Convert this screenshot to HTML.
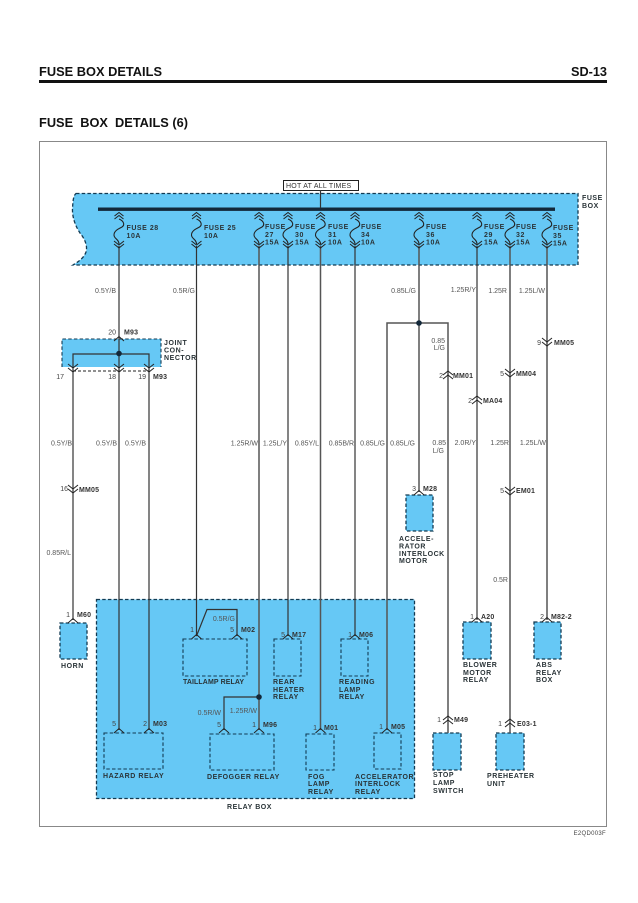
<!DOCTYPE html>
<html><head><meta charset="utf-8"><style>
html,body{margin:0;padding:0;background:#fff;width:638px;height:903px;overflow:hidden}
svg{display:block;font-family:"Liberation Sans",sans-serif}
.w{fill:none;stroke:#333;stroke-width:1.2}
.g{fill:none;stroke:#555;stroke-width:1.5}
.d{fill:#66c8f5;stroke:#123a52;stroke-width:1.3;stroke-dasharray:3.5 2.2}
.e{fill:none;stroke:#123a52;stroke-width:1.1;stroke-dasharray:3.5 2.2}
.c{fill:none;stroke:#222;stroke-width:1}
.b{font-size:7px;font-weight:bold;fill:#2a3438;letter-spacing:.55px}
.r{font-size:7px;fill:#555;text-anchor:end}
.p{font-size:7px;fill:#444;text-anchor:end}
.m{font-size:7px;font-weight:bold;fill:#333;letter-spacing:.2px}
</style></head><body>
<svg width="638" height="903" viewBox="0 0 638 903" xmlns="http://www.w3.org/2000/svg">
<defs>
<path id="dd" d="M-5,-4 L0,0 L5,-4 M-5,0 L0,4 L5,0" class="c"/>
<path id="du" d="M-5,0 L0,-4 L5,0 M-5,4 L0,0 L5,4" class="c"/>
<path id="cap" d="M-5,3 L0,-1.5 L5,3" class="c"/>
<g id="fuse">
<path d="M-4.5,216 L0,212.5 L4.5,216 M-4.5,219 L0,215.5 L4.5,219" class="c"/>
<path d="M0,219 C5,221 6,225 3,227 C-1,229 -5,231 -5,235 C-5,239 0,239 0,244" class="c" style="stroke-width:1.1"/>
<path d="M-5,241 L0,245 L5,241 M-5,244 L0,248 L5,244" class="c"/>
</g>
</defs>
<rect width="638" height="903" fill="#fff"/>

<text x="39" y="76" font-size="13" font-weight="bold" fill="#111" textLength="123" lengthAdjust="spacingAndGlyphs">FUSE BOX DETAILS</text>
<text x="571" y="76" font-size="13" font-weight="bold" fill="#111" textLength="36" lengthAdjust="spacingAndGlyphs">SD-13</text>
<rect x="39" y="80" width="568" height="3" fill="#111"/>
<text x="39" y="127" font-size="13" font-weight="bold" fill="#111" textLength="149" lengthAdjust="spacingAndGlyphs" xml:space="preserve">FUSE  BOX  DETAILS (6)</text>
<rect x="39.5" y="141.5" width="567" height="685" fill="#fff" stroke="#888" stroke-width="1"/>

<!-- fuse box -->
<path class="d" d="M76,193.5 L578,193.5 L578,265 L73,265 C78,262 84,258 86,252 C88,245 84,238 80,233 C76,227 72,218 72.5,208 C73,202 73,196 76,193.5 Z"/>
<rect x="98" y="207.5" width="457" height="3.4" fill="#13283a"/>
<rect x="283.5" y="180.5" width="75" height="10" fill="#fff" stroke="#222" stroke-width="1"/>
<text x="286" y="188" font-size="7" fill="#333" letter-spacing=".25">HOT AT ALL TIMES</text>
<path d="M320.5,190 V208" class="w"/>

<!-- relay box -->
<rect class="d" x="96.5" y="599.5" width="318" height="199"/>

<!-- joint connector -->
<path d="M62,339 H161 V367 H62 Z" fill="#66c8f5"/>
<path class="e" d="M62,367 V339 H161 V367"/>
<path d="M73,371 H149" stroke="#222" stroke-width="1" stroke-dasharray="3 2" fill="none"/>

<!-- component boxes -->
<rect class="d" x="406" y="495" width="27" height="36"/>
<rect class="d" x="60" y="623" width="27" height="36"/>
<rect class="d" x="463" y="622" width="28" height="37"/>
<rect class="d" x="534" y="622" width="27" height="37"/>
<rect class="d" x="433" y="733" width="28" height="37"/>
<rect class="d" x="496" y="733" width="28" height="37"/>
<rect class="e" x="183" y="639" width="64" height="37"/>
<rect class="e" x="274" y="639" width="27" height="37"/>
<rect class="e" x="341" y="639" width="27" height="37"/>
<rect class="e" x="104" y="733" width="59" height="36"/>
<rect class="e" x="210" y="734" width="64" height="36"/>
<rect class="e" x="306" y="734" width="28" height="36"/>
<rect class="e" x="374" y="733" width="27" height="36"/>

<!-- wires -->
<path class="w" d="M119,246 V341"/>
<path class="w" d="M196.5,246 V636 L207,609.5 H237 V636"/>
<path class="g" d="M259,246 V730"/>
<path class="w" d="M288,246 V636"/>
<path class="g" d="M320.5,246 V730"/>
<path class="w" d="M355,246 V636"/>
<path class="g" d="M419,246 V492"/>
<path class="w" d="M477,246 V620"/>
<path class="g" d="M510,246 V733"/>
<path class="g" d="M547,246 V620"/>
<path class="g" d="M387,730 V323 H448 V733"/>
<path class="w" d="M73,620 V354 H149 V730"/>
<path class="w" d="M119,341 V730"/>
<path class="w" d="M259,697 H224 V730"/>
<circle cx="119" cy="353.5" r="2.8" fill="#13283a"/>
<circle cx="419" cy="323" r="2.8" fill="#13283a"/>
<circle cx="259" cy="697" r="2.8" fill="#13283a"/>

<!-- fuse symbols -->
<use href="#fuse" x="119"/><use href="#fuse" x="196.5"/><use href="#fuse" x="259"/><use href="#fuse" x="288"/>
<use href="#fuse" x="320.5"/><use href="#fuse" x="355"/><use href="#fuse" x="419"/><use href="#fuse" x="477"/>
<use href="#fuse" x="510"/><use href="#fuse" x="547"/>

<!-- connectors -->
<use href="#cap" x="119" y="338"/>
<use href="#dd" x="73" y="368"/><use href="#dd" x="119" y="368"/><use href="#dd" x="149" y="368"/>
<use href="#dd" x="73" y="489"/>
<use href="#dd" x="547" y="342"/>
<use href="#du" x="448" y="375"/>
<use href="#dd" x="510" y="373"/>
<use href="#du" x="477" y="400"/>
<use href="#dd" x="510" y="491"/>
<use href="#du" x="448" y="720"/>
<use href="#du" x="510" y="723"/>
<use href="#cap" x="419" y="492"/>
<use href="#cap" x="73" y="620"/>
<use href="#cap" x="477" y="619"/>
<use href="#cap" x="547" y="619"/>
<use href="#cap" x="196.5" y="636"/><use href="#cap" x="237" y="636"/>
<use href="#cap" x="288" y="636"/><use href="#cap" x="355" y="636"/>
<use href="#cap" x="119" y="730"/><use href="#cap" x="149" y="730"/>
<use href="#cap" x="224" y="730"/><use href="#cap" x="259" y="730"/>
<use href="#cap" x="320.5" y="730"/><use href="#cap" x="387" y="730"/>

<!-- fuse labels -->
<g class="b">
<text x="126.500" y="230">FUSE 28</text><text x="126.500" y="238">10A</text>
<text x="204" y="230">FUSE 25</text><text x="204" y="238">10A</text>
<text x="265" y="229">FUSE</text><text x="265" y="237">27</text><text x="265" y="244.500">15A</text>
<text x="295" y="229">FUSE</text><text x="295" y="237">30</text><text x="295" y="244.500">15A</text>
<text x="328" y="229">FUSE</text><text x="328" y="237">31</text><text x="328" y="244.500">10A</text>
<text x="361" y="229">FUSE</text><text x="361" y="237">34</text><text x="361" y="244.500">10A</text>
<text x="426" y="229">FUSE</text><text x="426" y="237">36</text><text x="426" y="244.500">10A</text>
<text x="484" y="229">FUSE</text><text x="484" y="237">29</text><text x="484" y="244.500">15A</text>
<text x="516" y="229">FUSE</text><text x="516" y="237">32</text><text x="516" y="244.500">15A</text>
<text x="553" y="230">FUSE</text><text x="553" y="238">35</text><text x="553" y="245.500">15A</text>
<text x="582" y="200">FUSE</text><text x="582" y="208">BOX</text>
<text x="164" y="345">JOINT</text><text x="164" y="352.500">CON-</text><text x="164" y="360">NECTOR</text>
<text x="399" y="541">ACCELE-</text><text x="399" y="548.500">RATOR</text><text x="399" y="556">INTERLOCK</text><text x="399" y="563">MOTOR</text>
<text x="61" y="668">HORN</text>
<text x="183" y="684" letter-spacing=".1">TAILLAMP RELAY</text>
<text x="103" y="778">HAZARD RELAY</text>
<text x="207" y="779">DEFOGGER RELAY</text>
<text x="227" y="809">RELAY  BOX</text>
<text x="273" y="684">REAR</text><text x="273" y="692">HEATER</text><text x="273" y="699">RELAY</text>
<text x="339" y="684">READING</text><text x="339" y="692">LAMP</text><text x="339" y="699">RELAY</text>
<text x="308" y="779">FOG</text><text x="308" y="786">LAMP</text><text x="308" y="794">RELAY</text>
<text x="355" y="779">ACCELERATOR</text><text x="355" y="786">INTERLOCK</text><text x="355" y="794">RELAY</text>
<text x="463" y="667">BLOWER</text><text x="463" y="675">MOTOR</text><text x="463" y="682">RELAY</text>
<text x="536" y="667">ABS</text><text x="536" y="675">RELAY</text><text x="536" y="682">BOX</text>
<text x="433" y="777">STOP</text><text x="433" y="785">LAMP</text><text x="433" y="793">SWITCH</text>
<text x="487" y="778">PREHEATER</text><text x="487" y="786">UNIT</text>
</g>

<!-- wire labels -->
<g class="r">
<text x="116" y="293">0.5Y/B</text><text x="195" y="293">0.5R/G</text>
<text x="416" y="293">0.85L/G</text><text x="476" y="292">1.25R/Y</text><text x="507" y="293">1.25R</text><text x="545" y="293">1.25L/W</text>
<text x="445" y="343">0.85</text><text x="445" y="350">L/G</text>
<text x="72" y="445.500">0.5Y/B</text><text x="117" y="445.500">0.5Y/B</text><text x="146" y="445.500">0.5Y/B</text>
<text x="258" y="445.500">1.25R/W</text><text x="287" y="445.500">1.25L/Y</text><text x="319" y="445.500">0.85Y/L</text>
<text x="354" y="445.500">0.85B/R</text><text x="385" y="445.500">0.85L/G</text><text x="415" y="445.500">0.85L/G</text>
<text x="446" y="445">0.85</text><text x="444" y="453">L/G</text>
<text x="476" y="445">2.0R/Y</text><text x="509" y="445">1.25R</text><text x="546" y="445">1.25L/W</text>
<text x="71" y="555">0.85R/L</text><text x="508" y="582">0.5R</text>
<text x="235" y="621">0.5R/G</text><text x="221" y="715">0.5R/W</text><text x="257" y="713">1.25R/W</text>
</g>

<!-- pin numbers -->
<g class="p">
<text x="116" y="334.500">20</text><text x="64" y="379">17</text><text x="116" y="379">18</text><text x="146" y="379">19</text>
<text x="68" y="491">16</text><text x="541" y="345">9</text><text x="443" y="378">2</text><text x="504" y="376">5</text>
<text x="472" y="403">2</text><text x="416" y="491">3</text><text x="504" y="493">5</text>
<text x="70" y="617">1</text><text x="194" y="632">1</text><text x="234" y="632">5</text><text x="285" y="637">5</text><text x="352" y="637">1</text>
<text x="474" y="619">1</text><text x="544" y="619">2</text>
<text x="116" y="726">5</text><text x="147" y="726">2</text><text x="221" y="727">5</text><text x="256" y="727">1</text>
<text x="317" y="730">1</text><text x="383" y="729">1</text><text x="441" y="722">1</text><text x="502" y="726">1</text>
</g>

<!-- connector ids -->
<g class="m">
<text x="124" y="334.500">M93</text><text x="153" y="379">M93</text><text x="79" y="492">MM05</text><text x="554" y="345">MM05</text>
<text x="453" y="378">MM01</text><text x="516" y="376">MM04</text><text x="483" y="403">MA04</text><text x="423" y="491">M28</text><text x="516" y="493">EM01</text>
<text x="77" y="617">M60</text><text x="241" y="632">M02</text><text x="292" y="637">M17</text><text x="359" y="637">M06</text>
<text x="481" y="619">A20</text><text x="551" y="619">M82-2</text>
<text x="153" y="726">M03</text><text x="263" y="727">M96</text><text x="324" y="730">M01</text><text x="391" y="729">M05</text>
<text x="454" y="722">M49</text><text x="517" y="726">E03-1</text>
</g>
<text x="606" y="835" font-size="6" fill="#444" text-anchor="end" letter-spacing=".3">E2QD003F</text>
</svg>
</body></html>
